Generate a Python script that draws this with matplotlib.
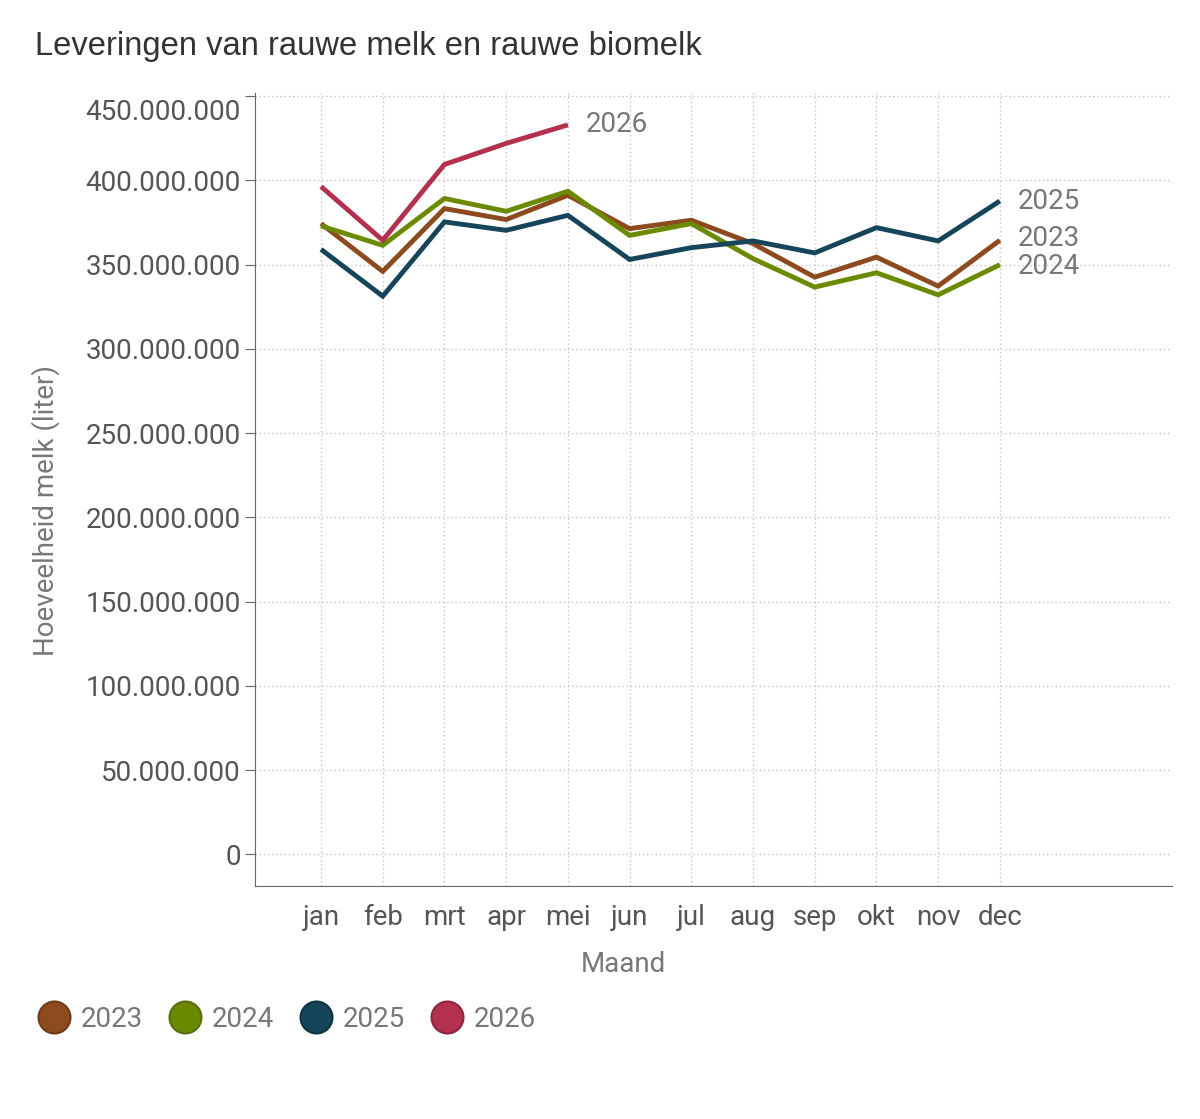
import matplotlib
matplotlib.use("Agg")
import matplotlib.pyplot as plt
import matplotlib.transforms as mtransforms
from matplotlib.lines import Line2D
from matplotlib.ticker import FuncFormatter

months = ["jan", "feb", "mrt", "apr", "mei", "jun", "jul", "aug", "sep", "okt", "nov", "dec"]

# liters (millions)
melk_2023 = [374.4, 346.0, 383.3, 376.8, 391.2, 371.4, 376.4, 362.5, 342.6, 354.5, 337.3, 364.5]
melk_2024 = [373.0, 361.5, 389.3, 381.7, 393.6, 367.4, 374.4, 353.6, 336.7, 345.2, 332.1, 350.0]
melk_2025 = [359.1, 331.3, 375.4, 370.4, 379.3, 353.1, 360.1, 364.1, 357.0, 372.0, 364.1, 387.8]
melk_2026 = [396.4, 364.5, 409.5, 422.0, 433.0]

years = ["2023", "2024", "2025", "2026"]
series = [melk_2023, melk_2024, melk_2025, melk_2026]
colors = ["#8c4a1e", "#6b8a00", "#16455a", "#b3304e"]
edges = ["#6e3a17", "#55700a", "#0f3344", "#8f2640"]
# offsets for the end labels (points), so 2023/2024 don't overlap
label_dy = {"2023": 1, "2024": -1, "2025": 0, "2026": 0}

plt.rcParams["font.family"] = ["Roboto", "DejaVu Sans"]

fig = plt.figure(figsize=(12, 11.19), dpi=100)
ax = fig.add_axes([0.2125, 0.208, 0.7642, 0.709])

for yr, vals, c in zip(years, series, colors):
    xs = list(range(len(vals)))
    ys = [v * 1e6 for v in vals]
    ax.plot(xs, ys, color=c, lw=3.5, solid_joinstyle="miter", solid_capstyle="butt", zorder=3)
    ax.annotate(yr, (xs[-1], ys[-1]), xytext=(13, label_dy[yr]), textcoords="offset points",
                va="center", ha="left", fontsize=20, color="#777777")

ax.set_xlim(-1.07, 13.79)
ax.set_ylim(-19e6, 452e6)
ax.set_xticks(range(12))
ax.set_xticklabels(months)
ax.set_yticks([i * 50e6 for i in range(10)])
ax.yaxis.set_major_formatter(FuncFormatter(lambda v, p: f"{int(round(v)):,}".replace(",", ".")))

ax.grid(True, color="#c4c4c4", linestyle=(0, (1, 2)), lw=1)
ax.set_axisbelow(True)
for s in ["top", "right"]:
    ax.spines[s].set_visible(False)
for s in ["left", "bottom"]:
    ax.spines[s].set_color("#666666")
ax.tick_params(axis="y", labelsize=20, labelcolor="#555555", length=7, color="#666666", pad=3)
ax.tick_params(axis="x", labelsize=20, labelcolor="#555555", length=0, pad=13)

# top label sits a little lower in the original
fig.canvas.draw()
top = ax.get_yticklabels()[-1]
top.set_transform(top.get_transform() + mtransforms.ScaledTranslation(0, -13 / 100, fig.dpi_scale_trans))

ax.set_xlabel("Maand", fontsize=20, color="#777777")
ax.xaxis.set_label_coords(0.402, -0.081)
ax.set_ylabel("Hoeveelheid melk (liter)", fontsize=20, color="#777777")
ax.yaxis.set_label_coords(-0.2125, 0.473)

fig.text(0.029, 0.958, "Leveringen van rauwe melk en rauwe biomelk", fontsize=23.6,
         color="#333333", va="center", ha="left", family=["Liberation Sans", "DejaVu Sans"])

handles = [Line2D([], [], ls="none", marker="o", markersize=23, markerfacecolor=c,
                  markeredgecolor=e, markeredgewidth=1.5) for c, e in zip(colors, edges)]
leg = fig.legend(handles, years, loc="center left", bbox_to_anchor=(0.010, 0.089), ncol=4,
                 frameon=False, fontsize=20, handletextpad=0.36, columnspacing=0.92,
                 handlelength=1.2, borderpad=0.4)
for t in leg.get_texts():
    t.set_color("#777777")

fig.savefig("out.png", dpi=100)
